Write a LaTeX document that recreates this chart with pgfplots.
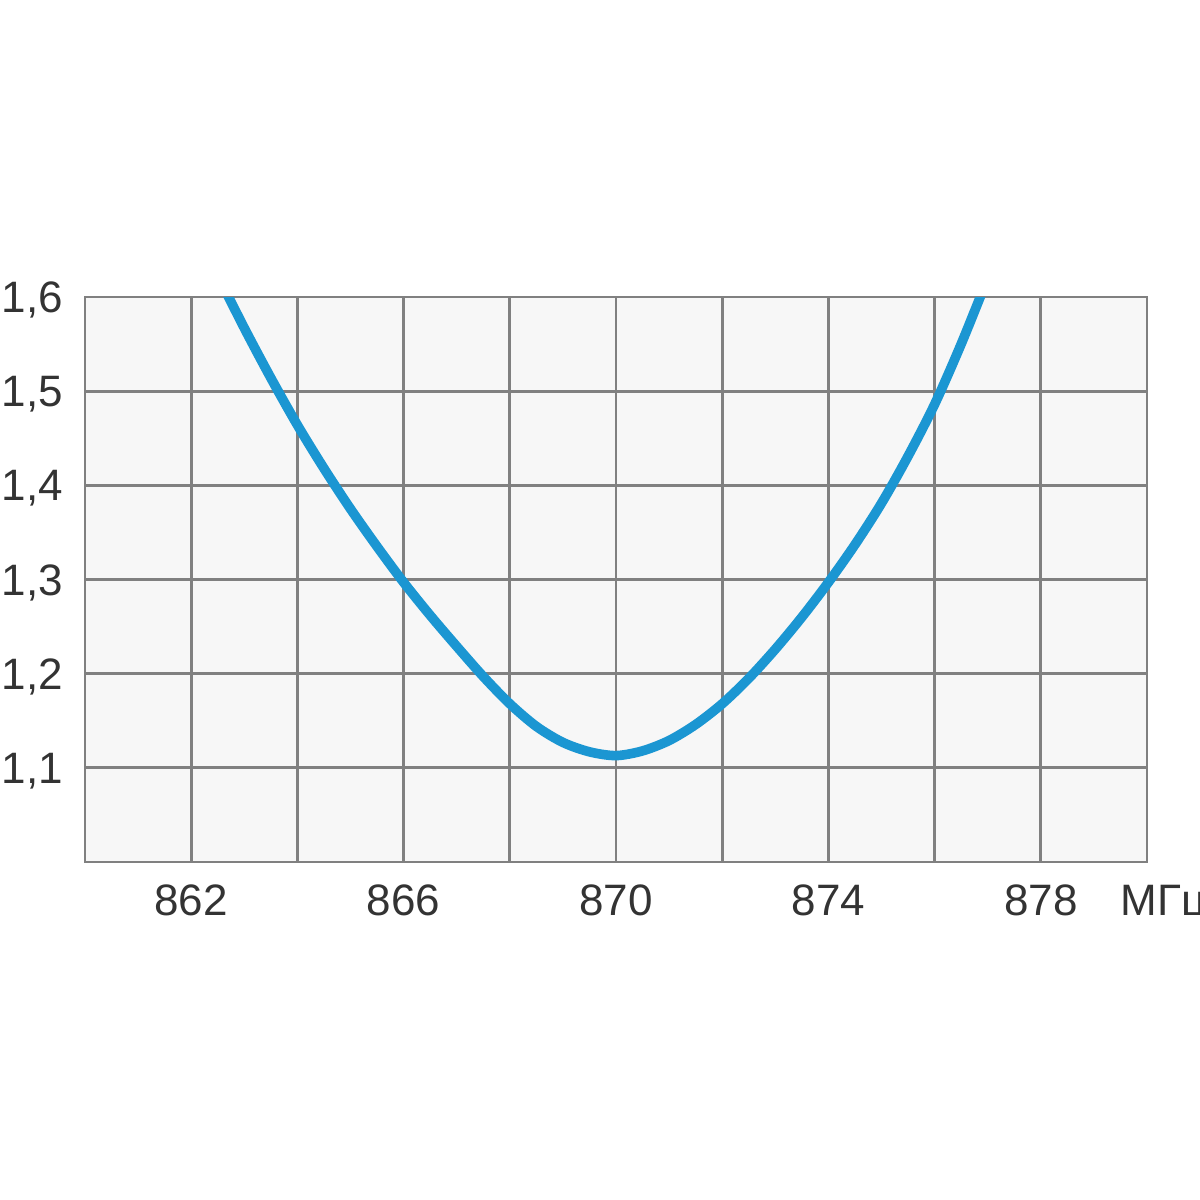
\documentclass[border=0pt]{standalone}
\usepackage{fontspec}
\setmainfont{Liberation Sans}
\usepackage{pgfplots}
\pgfplotsset{compat=1.18}
\definecolor{curve}{RGB}{27,150,210}
\definecolor{gridc}{RGB}{128,128,128}
\definecolor{bgc}{RGB}{247,247,247}
\begin{document}
\begin{tikzpicture}
\useasboundingbox (-21.25pt,-84.5pt) rectangle (278.75pt,215.5pt);
\begin{axis}[
  at={(0pt,0pt)}, anchor=south west,
  scale only axis, width=265.5pt, height=141.25pt,
  xmin=860, xmax=880, ymin=1.0, ymax=1.6,
  axis background/.style={fill=bgc},
  xtick={860,862,...,880},
  xticklabels={,862,,866,,870,,874,,878,},
  ytick={1.0,1.1,1.2,1.3,1.4,1.5,1.6},
  yticklabels={,{1,1},{1,2},{1,3},{1,4},{1,5},{1,6}},
  major tick length=0pt,
  grid=major,
  major grid style={draw=gridc, line width=0.7pt},
  axis line style={draw=gridc, line width=0.7pt},
  xticklabel style={font=\fontsize{11pt}{13pt}\selectfont, anchor=base, yshift=-13.25pt, text=black!80},
  yticklabel style={font=\fontsize{11pt}{13pt}\selectfont, anchor=base east, xshift=-2pt, yshift=-3.9pt, text=black!80},
  clip=true,
]
\addplot[color=curve, line width=2.4pt, smooth, tension=0.5] coordinates {
  (862.5,1.623) (863.0,1.567) (863.5,1.514) (864.0,1.464) (864.5,1.418)
  (865.0,1.375) (865.5,1.335) (866.0,1.297) (866.5,1.262) (867.0,1.229)
  (867.5,1.197) (868.0,1.168) (868.5,1.144) (869.0,1.127) (869.5,1.117)
  (870.0,1.113) (870.5,1.118) (871.0,1.129) (871.5,1.146) (872.0,1.168)
  (872.5,1.195) (873.0,1.226) (873.5,1.260) (874.0,1.297) (874.5,1.337)
  (875.0,1.381) (875.5,1.431) (876.0,1.486) (876.5,1.550) (877.0,1.620)
};
\coordinate (mhz) at (axis cs:879.49,1.0);
\end{axis}
\node[anchor=base west, font=\fontsize{11pt}{13pt}\selectfont, text=black!80, inner sep=0pt] at ([yshift=-13.25pt]mhz) {МГц};
\end{tikzpicture}
\end{document}
